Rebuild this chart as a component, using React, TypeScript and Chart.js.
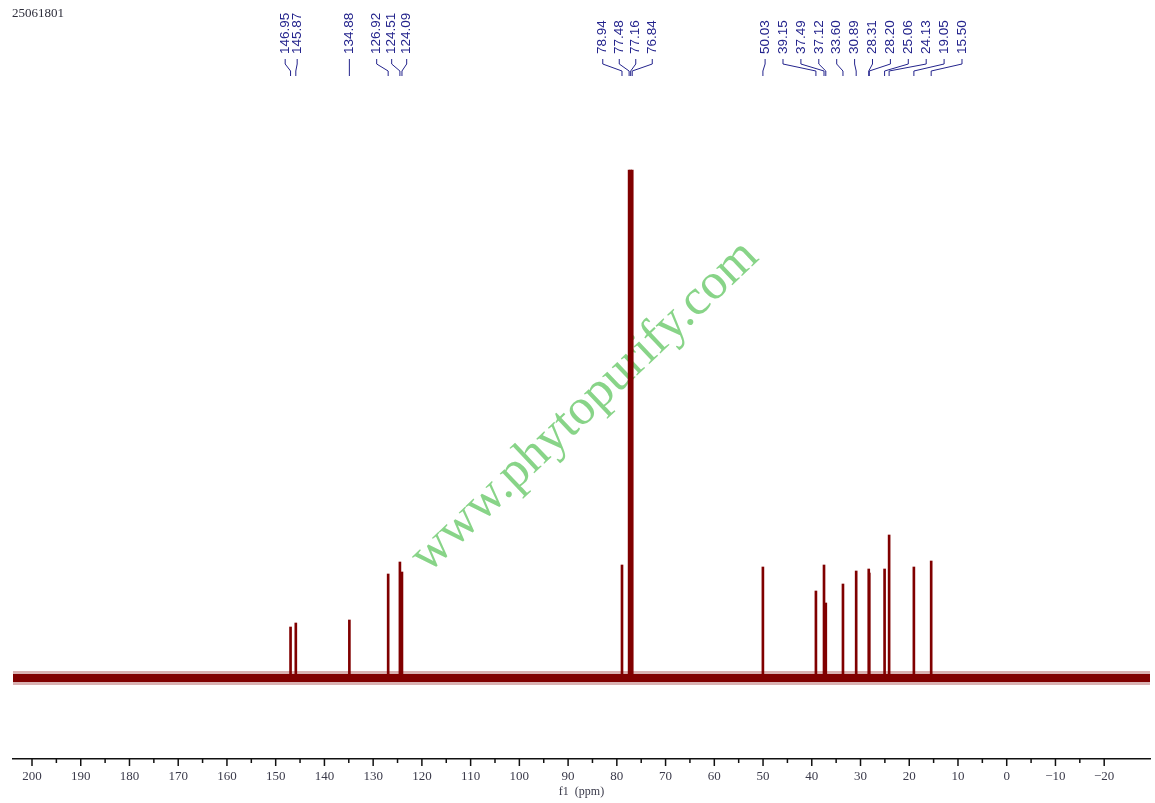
import React, { useEffect, useRef } from "react";
import { Chart, registerables } from "chart.js";

Chart.register(...registerables);

// ---- data ----
const SAMPLE_ID = "25061801";
const PEAK_PPM = [
  146.95, 145.87, 134.88, 126.92, 124.51, 124.09, 78.94, 77.48, 77.16, 76.84,
  50.03, 39.15, 37.49, 37.12, 33.6, 30.89, 28.31, 28.2, 25.06, 24.13, 19.05, 15.5,
];
const PEAK_HEIGHT = [
  51, 55, 58, 104, 116, 106, 113, 508, 508, 508,
  111, 87, 113, 75, 94, 107, 109, 105, 109, 143, 111, 117,
];
const PEAK_LABELS = PEAK_PPM.map((v) => v.toFixed(2));
const LABEL_GROUPS = [
  [0, 1],
  [2],
  [3, 4, 5],
  [6, 7, 8, 9],
  [10, 11, 12, 13, 14, 15, 16, 17, 18, 19, 20, 21],
];
const X_MIN = -29.4;
const X_MAX = 203.9;
const TICK_STEP = 10;
const BASELINE_PPM = [X_MIN, X_MAX];
const BASELINE_VALUE = [0, 0];
const WATERMARK = "www.phytopurify.com";
const AXIS_TITLE = "f1  (ppm)";

// ---- layout / style constants ----
const GROUP_GAP = [12, 0, 15, 16.5, 17.9];
const GROUP_SHIFT = [-2, 0, -5, -1, 6.5];
const SPEC_COLOR = "#800000";
const LABEL_COLOR = "#23238c";

const peakLabelPlugin = {
  id: "peakLabels",
  afterDraw(chart: any) {
    const ctx = chart.ctx;
    const xs = chart.scales.x;
    ctx.save();
    ctx.font = '13.5px "Liberation Sans", Arial, sans-serif';
    ctx.fillStyle = LABEL_COLOR;
    ctx.strokeStyle = LABEL_COLOR;
    ctx.lineWidth = 1;
    LABEL_GROUPS.forEach((grp, gi) => {
      const px = grp.map((i) => xs.getPixelForValue(PEAK_PPM[i]));
      const mean = px.reduce((a, b) => a + b, 0) / px.length + GROUP_SHIFT[gi];
      const gap = GROUP_GAP[gi];
      grp.forEach((i, k) => {
        const lx = mean + (k - (grp.length - 1) / 2) * gap;
        const pk = px[k];
        ctx.save();
        ctx.translate(lx, 54);
        ctx.rotate(-Math.PI / 2);
        ctx.textAlign = "left";
        ctx.textBaseline = "middle";
        ctx.fillText(PEAK_LABELS[i], 0, 0);
        ctx.restore();
        ctx.beginPath();
        ctx.moveTo(lx, 59);
        ctx.lineTo(lx, 64);
        ctx.lineTo(pk, 71);
        ctx.lineTo(pk, 76);
        ctx.stroke();
      });
    });
    // sample id
    ctx.font = '13px "Liberation Serif", "Times New Roman", serif';
    ctx.fillStyle = "#2d2d3a";
    ctx.textAlign = "left";
    ctx.textBaseline = "alphabetic";
    ctx.fillText(SAMPLE_ID, 12, 17);
    // axis ticks (major + minor)
    const bottom = chart.chartArea.bottom;
    ctx.strokeStyle = "#111";
    ctx.lineWidth = 1.5;
    xs.ticks.forEach((t: any) => {
      const x = xs.getPixelForValue(t.value);
      ctx.beginPath();
      ctx.moveTo(x, bottom);
      ctx.lineTo(x, bottom + 7);
      ctx.stroke();
      const m = xs.getPixelForValue(t.value + TICK_STEP / 2);
      if (m >= chart.chartArea.left && m <= chart.chartArea.right) {
        ctx.beginPath();
        ctx.moveTo(m, bottom);
        ctx.lineTo(m, bottom + 4);
        ctx.stroke();
      }
    });
    ctx.restore();
  },
};

const watermarkPlugin = {
  id: "watermark",
  beforeDatasetsDraw(chart: any) {
    const ctx = chart.ctx;
    ctx.save();
    ctx.translate(428, 574);
    ctx.rotate((-43.5 * Math.PI) / 180);
    ctx.font = '51px "Liberation Serif", "Times New Roman", serif';
    ctx.fillStyle = "rgba(115,205,115,0.85)";
    ctx.textAlign = "left";
    ctx.textBaseline = "alphabetic";
    ctx.fillText(WATERMARK, 0, 0);
    ctx.restore();
  },
};

export default function App() {
  const ref = useRef<HTMLCanvasElement>(null);
  useEffect(() => {
    document.body.style.margin = "0";
    const peaks = PEAK_PPM.map((x, i) => ({ x, y: PEAK_HEIGHT[i] }));
    const base = BASELINE_PPM.map((x, i) => ({ x, y: BASELINE_VALUE[i] }));
    const chart = new Chart(ref.current as HTMLCanvasElement, {
      type: "bar",
      data: {
        datasets: [
          {
            type: "line",
            data: base,
            borderColor: "rgba(128,0,0,0.3)",
            borderWidth: 14,
            pointRadius: 0,
            order: 3,
          } as any,
          {
            type: "line",
            data: base,
            borderColor: SPEC_COLOR,
            borderWidth: 8,
            pointRadius: 0,
            order: 2,
          } as any,
          {
            type: "bar",
            data: peaks,
            backgroundColor: SPEC_COLOR,
            barThickness: 2,
            order: 1,
          } as any,
        ],
      },
      options: {
        animation: false,
        responsive: false,
        events: [],
        layout: { padding: { left: 13, right: 5, top: 100, bottom: 0 } },
        plugins: { legend: { display: false }, tooltip: { enabled: false } },
        scales: {
          x: {
            type: "linear",
            reverse: true,
            min: X_MIN,
            max: X_MAX,
            offset: false,
            grid: { display: false, drawTicks: false },
            border: { display: true, color: "#111", width: 1.5 },
            ticks: {
              stepSize: TICK_STEP,
              includeBounds: false,
              autoSkip: false,
              maxRotation: 0,
              padding: 10,
              color: "#3a3a4a",
              font: { family: '"Liberation Serif", "Times New Roman", serif', size: 13 },
              callback: (v: any) => (v < 0 ? "\u2212" + Math.abs(v) : String(v)),
            },
            title: {
              display: true,
              text: AXIS_TITLE,
              color: "#3a3a4a",
              font: { family: '"Liberation Serif", "Times New Roman", serif', size: 12 },
              padding: { top: 0, bottom: 4 },
            },
            afterFit: (s: any) => {
              s.height = 44;
            },
          } as any,
          y: {
            type: "linear",
            display: false,
            min: -81,
            max: 578,
          },
        },
      },
      plugins: [watermarkPlugin, peakLabelPlugin],
    });
    return () => chart.destroy();
  }, []);
  return (
    <canvas
      ref={ref}
      width={1155}
      height={803}
      style={{ display: "block", width: 1155, height: 803 }}
    />
  );
}
